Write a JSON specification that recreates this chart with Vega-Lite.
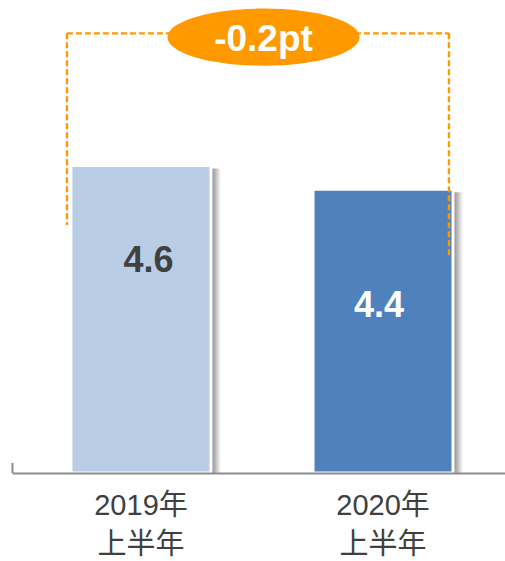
{
  "$schema": "https://vega.github.io/schema/vega-lite/v6.json",
  "width": 493,
  "height": 473,
  "autosize": {"type": "none"},
  "padding": {"left": 12, "top": 0, "right": 0, "bottom": 88},
  "background": "#ffffff",
  "config": {"view": {"stroke": null}, "font": "Liberation Sans, Noto Sans CJK JP"},
  "datasets": {
    "bars": [
      {"period": "2019年 上半年", "value": 4.6},
      {"period": "2020年 上半年", "value": 4.4}
    ]
  },
  "layer": [
    {
      "data": {"name": "bars"},
      "mark": {
        "type": "bar",
        "xOffset": 10,
        "yOffset": 3,
        "clip": true,
        "fill": {
          "gradient": "linear", "x1": 0, "y1": 0, "x2": 1, "y2": 0,
          "stops": [
            {"offset": 0, "color": "#7a7a7a"},
            {"offset": 0.93, "color": "#858585"},
            {"offset": 1, "color": "#ffffff"}
          ]
        }
      },
      "encoding": {
        "x": {
          "field": "period", "type": "nominal", "title": null,
          "scale": {"paddingInner": 0.4215, "paddingOuter": 0.2293, "align": 0.5315},
          "axis": {
            "title": null,
            "ticks": false,
            "domainColor": "#8c8c8c",
            "domainWidth": 2,
            "labelAngle": 0,
            "labelFont": "Liberation Sans, Noto Sans CJK JP",
            "labelFontSize": 29,
            "labelColor": "#404040",
            "labelBaseline": "top",
            "labelPadding": 18,
            "labelLineHeight": 39,
            "labelExpr": "split(datum.label, ' ')",
            "zindex": 1
          }
        },
        "y": {"field": "value", "type": "quantitative", "scale": {"domain": [2, 6], "zero": false}, "axis": null},
        "y2": {"datum": 2}
      }
    },
    {
      "data": {"name": "bars"},
      "mark": {"type": "bar", "stroke": "#ffffff", "strokeWidth": 3},
      "encoding": {
        "x": {"field": "period", "type": "nominal", "title": null},
        "y": {"field": "value", "type": "quantitative"},
        "y2": {"datum": 2},
        "fill": {
          "field": "period", "type": "nominal",
          "scale": {"range": ["#B9CDE5", "#4F81BD"]},
          "legend": null
        }
      }
    },
    {
      "data": {"name": "bars"},
      "transform": [{"filter": "datum.value == 4.6"}],
      "mark": {"type": "text", "fontSize": 36, "fontWeight": "bold", "color": "#404040", "baseline": "alphabetic", "dy": 106.5},
      "encoding": {
        "x": {"field": "period", "type": "nominal", "title": null, "bandPosition": 0.554},
        "y": {"field": "value", "type": "quantitative"},
        "text": {"field": "value", "type": "quantitative", "format": ".1f"}
      }
    },
    {
      "data": {"name": "bars"},
      "transform": [{"filter": "datum.value == 4.4"}],
      "mark": {"type": "text", "fontSize": 36, "fontWeight": "bold", "color": "#ffffff", "baseline": "alphabetic", "dy": 128},
      "encoding": {
        "x": {"field": "period", "type": "nominal", "title": null, "bandPosition": 0.471},
        "y": {"field": "value", "type": "quantitative"},
        "text": {"field": "value", "type": "quantitative", "format": ".1f"}
      }
    },
    {
      "data": {"values": [{"period": "2019年 上半年", "from": 5.718, "to": 4.097}]},
      "mark": {"type": "rule", "color": "#FF9900", "strokeWidth": 2.4, "strokeDash": [6, 3]},
      "encoding": {
        "x": {"field": "period", "type": "nominal", "title": null, "bandPosition": -0.029},
        "y": {"field": "from", "type": "quantitative"},
        "y2": {"field": "to"}
      }
    },
    {
      "data": {"values": [{"period": "2020年 上半年", "from": 5.718, "to": 3.822}]},
      "mark": {"type": "rule", "color": "#FF9900", "strokeWidth": 2.4, "strokeDash": [6, 3]},
      "encoding": {
        "x": {"field": "period", "type": "nominal", "title": null, "bandPosition": 0.971},
        "y": {"field": "from", "type": "quantitative"},
        "y2": {"field": "to"}
      }
    },
    {
      "data": {"values": [{"start": "2019年 上半年", "end": "2020年 上半年", "level": 5.718}]},
      "mark": {"type": "rule", "color": "#FF9900", "strokeWidth": 2.4, "strokeDash": [6, 3]},
      "encoding": {
        "x": {"field": "start", "type": "nominal", "title": null, "bandPosition": -0.029},
        "x2": {"field": "end", "bandPosition": 0.971},
        "y": {"field": "level", "type": "quantitative"}
      }
    },
    {
      "data": {"values": [{"period": "2019年 上半年"}]},
      "mark": {"type": "rule", "color": "#8c8c8c", "strokeWidth": 2},
      "encoding": {
        "x": {"field": "period", "type": "nominal", "title": null, "bandPosition": -0.418},
        "y": {"datum": 2},
        "y2": {"datum": 2.085}
      }
    },
    {
      "data": {"values": [{"period": "2019年 上半年", "level": 5.686, "label": "-0.2pt"}]},
      "mark": {
        "type": "point",
        "shape": "M -1 0 A 1 0.297 0 1 1 1 0 A 1 0.297 0 1 1 -1 0 Z",
        "size": 36864,
        "filled": true,
        "fill": "#FF9900",
        "opacity": 1,
        "strokeWidth": 0
      },
      "encoding": {
        "x": {"field": "period", "type": "nominal", "title": null, "bandPosition": 1.375},
        "y": {"field": "level", "type": "quantitative"}
      }
    },
    {
      "data": {"values": [{"period": "2019年 上半年", "level": 5.686, "label": "-0.2pt"}]},
      "mark": {"type": "text", "fontSize": 37, "fontWeight": "bold", "color": "#ffffff", "baseline": "alphabetic", "dy": 14},
      "encoding": {
        "x": {"field": "period", "type": "nominal", "title": null, "bandPosition": 1.375},
        "y": {"field": "level", "type": "quantitative"},
        "text": {"field": "label"}
      }
    }
  ]
}
